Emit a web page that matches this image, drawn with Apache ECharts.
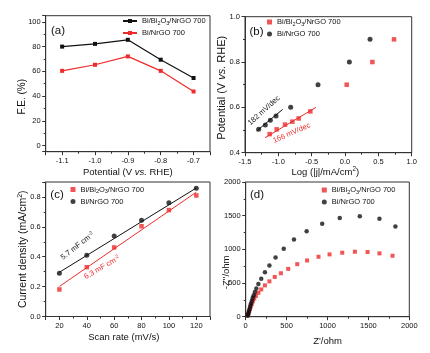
<!DOCTYPE html>
<html>
<head>
<meta charset="utf-8">
<script src="https://cdn.jsdelivr.net/npm/echarts@6/dist/echarts.min.js"></script>
<style>
html, body { margin: 0; padding: 0; background: #fff; }
#main { width: 430px; height: 353px; }
</style>
</head>
<body>
<div id="main"></div>
<script>
// (a) F.E. vs potential
var aPotential = [-1.1, -1.0, -0.9, -0.8, -0.7];
var aBi2O3 = [80, 82.2, 85.5, 69.4, 54.6];
var aBi = [60.4, 65.3, 72.1, 60.4, 43.7];

// (b) Tafel plot, [log|j|, potential]
var bBi2O3 = [[-1.13, 0.482], [-1.025, 0.503], [-0.90, 0.524], [-0.79, 0.537], [-0.695, 0.551],
              [-0.52, 0.582], [0.025, 0.70], [0.41, 0.80], [0.735, 0.90]];
var bBi = [[-1.295, 0.503], [-1.195, 0.522], [-1.12, 0.543], [-1.035, 0.562], [-0.815, 0.60],
           [-0.405, 0.70], [0.065, 0.80], [0.375, 0.90]];
var bFitBi2O3 = [[-1.2, 0.466], [-0.435, 0.60]];
var bFitBi = [[-1.325, 0.496], [-0.935, 0.591]];

// (c) current density vs scan rate
var cRate = [20, 40, 60, 80, 100, 120];
var cBi2O3 = [0.181, 0.33, 0.462, 0.604, 0.712, 0.81];
var cBi = [0.29, 0.41, 0.538, 0.644, 0.761, 0.858];
var cFitRate = [20, 120];
var cFitBi2O3 = [0.201, 0.832];
var cFitBi = [0.296, 0.86];

// (d) Nyquist, [Z', -Z'']
var dBi2O3 = [[1795, 905], [1635, 940], [1490, 960], [1335, 965], [1180, 950], [1025, 925], [890, 890],
              [750, 835], [630, 780], [520, 710], [430, 645], [355, 590], [290, 525], [235, 465],
              [190, 405], [155, 355], [125, 310], [105, 270], [88, 230], [74, 190], [62, 150],
              [52, 115], [42, 80], [34, 50], [26, 22]];
var dBi = [[1830, 1340], [1635, 1455], [1395, 1490], [1150, 1465], [935, 1380], [745, 1270], [590, 1145],
           [465, 1010], [365, 880], [290, 760], [235, 660], [190, 565], [155, 485], [130, 420],
           [112, 365], [98, 320], [86, 280], [76, 240], [66, 200], [58, 165], [50, 130], [43, 95],
           [36, 65], [30, 38], [24, 15]];

var FONT = 'Liberation Sans, Arial, sans-serif';
var TXT = '#111';
var AXIS = '#333';
var RED = '#ee2a2a';
var BLACK = '#111';

var LABELS = {
    a1: '{t|Bi/Bi}{sub|2}{t|O}{sub|3}{t|/NrGO 700}', a2: '{t|Bi/NrGO 700}',
    b1: '{t|Bi/Bi}{sub|2}{t|O}{sub|3}{t|/NrGO 700}', b2: '{t|Bi/NrGO 700}',
    c1: '{t|Bi/Bi}{sub|2}{t|O}{sub|3}{t|/NrGO 700}', c2: '{t|Bi/NrGO 700}',
    d1: '{t|Bi/Bi}{sub|2}{t|O}{sub|3}{t|/NrGO 700}', d2: '{t|Bi/NrGO 700}'
};

function nameRich(size) {
    return {
        t: { fontSize: size, fontFamily: FONT, color: TXT, lineHeight: size * 1.25 },
        i: { fontSize: size, fontFamily: FONT, color: TXT, fontStyle: 'italic', lineHeight: size * 1.25 },
        sup: { fontSize: size * 0.68, fontFamily: FONT, color: TXT, verticalAlign: 'top', lineHeight: size * 0.7 }
    };
}
var LEG_RICH = {
    t: { fontSize: 7.5, fontFamily: FONT, color: TXT, lineHeight: 10 },
    sub: { fontSize: 5.5, fontFamily: FONT, color: TXT, verticalAlign: 'bottom', lineHeight: 6 }
};

function fix1(v) { return v.toFixed(1); }
function plain(v) { return String(v); }

function makeAxis(grid, min, max, o) {
    var size = o.size || 9.5;
    return {
        type: 'value', gridIndex: grid, min: min, max: max,
        interval: o.interval, splitNumber: o.split,
        name: o.name, nameLocation: 'middle', nameGap: o.gap, nameMoveOverlap: false,
        nameTextStyle: { fontSize: size, color: TXT, fontFamily: FONT, padding: o.pad || 0, rich: nameRich(size) },
        axisLine: { show: true, onZero: false, lineStyle: { color: AXIS, width: 1 } },
        axisTick: { show: true, length: 3.5, lineStyle: { color: AXIS } },
        minorTick: { show: true, splitNumber: 2, length: 2, lineStyle: { color: AXIS } },
        splitLine: { show: false },
        axisLabel: {
            fontSize: 7.5, color: TXT, fontFamily: FONT, margin: o.margin,
            formatter: o.fmt || plain, showMinLabel: o.showMin, showMaxLabel: o.showMax
        }
    };
}

function makeLegend(names, left, top, w) {
    return {
        data: names, orient: 'vertical', left: left, top: top, padding: 0,
        itemWidth: w, itemHeight: 5, itemGap: 3,
        formatter: function (n) { return LABELS[n]; },
        textStyle: { fontSize: 7.5, fontFamily: FONT, color: TXT, rich: LEG_RICH }
    };
}

function zip(xs, ys) {
    return xs.map(function (x, i) { return [x, ys[i]]; });
}

function label(text, x, y, deg, color, size) {
    return {
        type: 'text', x: x, y: y, rotation: deg * Math.PI / 180, silent: true,
        style: {
            text: text, fontSize: size || 7.5, fontFamily: FONT, fill: color,
            align: 'center', verticalAlign: 'middle',
            rich: {
                t: { fontSize: size || 7.5, fontFamily: FONT, fill: color, lineHeight: 9 },
                sup: { fontSize: 5, fontFamily: FONT, fill: color, verticalAlign: 'top', lineHeight: 5 }
            }
        }
    };
}

var chart = echarts.init(document.getElementById('main'));

var option = {
    backgroundColor: '#fff',
    animation: false,
    grid: [
        { left: 45.7, top: 15.7, width: 164.3, height: 136, show: true, borderColor: AXIS, borderWidth: 1 },
        { left: 245, top: 16.7, width: 166.7, height: 136, show: true, borderColor: AXIS, borderWidth: 1 },
        { left: 45.7, top: 182, width: 164.3, height: 134.5, show: true, borderColor: AXIS, borderWidth: 1 },
        { left: 245.7, top: 182, width: 163.6, height: 134.7, show: true, borderColor: AXIS, borderWidth: 1 }
    ],
    xAxis: [
        makeAxis(0, -1.15, -0.65, { split: 5, name: '{t|Potential (V }{i|vs.}{t| RHE)}', gap: 15,
            margin: 5, fmt: fix1, showMin: false, showMax: false }),
        makeAxis(1, -1.5, 1.0, { interval: 0.5, name: '{t|Log (|j|/mA/cm}{sup|2}{t|)}', gap: 13.5,
            pad: [0, 6, 0, 0], margin: 5, fmt: fix1, showMin: true, showMax: true }),
        makeAxis(2, 10, 130, { split: 6, name: '{t|Scan rate (mV/s)}', gap: 14.5,
            pad: [0, 8, 0, 0], margin: 5, showMin: false, showMax: false }),
        makeAxis(3, 0, 2000, { interval: 500, name: "{t|Z'/ohm}", gap: 18.5,
            margin: 5, showMin: true, showMax: true })
    ],
    yAxis: [
        makeAxis(0, -5, 105, { split: 5, size: 10, name: '{t|F.E. (%)}', gap: 17, pad: [0, 26, 0, 0],
            margin: 5, showMin: false, showMax: false }),
        makeAxis(1, 0.4, 1.0, { interval: 0.2, size: 11, name: '{t|Potential (V }{i|vs.}{t| RHE)}', gap: 16,
            pad: [0, 6, 0, 0], margin: 5, fmt: fix1, showMin: true, showMax: true }),
        makeAxis(2, 0, 0.9, { interval: 0.2, size: 10.5, name: '{t|Current density (mA/cm}{sup|2}{t|)}', gap: 16.5,
            margin: 5, fmt: fix1, showMin: true, showMax: false }),
        makeAxis(3, 0, 2000, { interval: 500, name: "{t|-Z''/ohm}", gap: 13, pad: [0, 46, 0, 0],
            margin: 5, showMin: true, showMax: true })
    ],
    legend: [
        makeLegend(['a1', 'a2'], 122, 17, 14),
        makeLegend(['b1', 'b2'], 267, 18, 5),
        makeLegend(['c1', 'c2'], 70.5, 185.5, 5),
        makeLegend(['d1', 'd2'], 321.8, 186, 5)
    ],
    series: [
        { name: 'a1', type: 'line', xAxisIndex: 0, yAxisIndex: 0, data: zip(aPotential, aBi2O3),
          symbol: 'rect', symbolSize: 4, color: BLACK, lineStyle: { width: 1.2 } },
        { name: 'a2', type: 'line', xAxisIndex: 0, yAxisIndex: 0, data: zip(aPotential, aBi),
          symbol: 'rect', symbolSize: 4, color: RED, lineStyle: { width: 1.2 } },

        { name: 'bfit1', type: 'line', xAxisIndex: 1, yAxisIndex: 1, data: bFitBi2O3, showSymbol: false,
          silent: true, color: RED, lineStyle: { width: 1 } },
        { name: 'bfit2', type: 'line', xAxisIndex: 1, yAxisIndex: 1, data: bFitBi, showSymbol: false,
          silent: true, color: BLACK, lineStyle: { width: 1 } },
        { name: 'b1', type: 'scatter', xAxisIndex: 1, yAxisIndex: 1, data: bBi2O3,
          symbol: 'rect', symbolSize: 4.5, color: RED },
        { name: 'b2', type: 'scatter', xAxisIndex: 1, yAxisIndex: 1, data: bBi,
          symbol: 'circle', symbolSize: 5, color: BLACK },

        { name: 'cfit1', type: 'line', xAxisIndex: 2, yAxisIndex: 2, data: zip(cFitRate, cFitBi2O3),
          showSymbol: false, silent: true, color: RED, lineStyle: { width: 1 } },
        { name: 'cfit2', type: 'line', xAxisIndex: 2, yAxisIndex: 2, data: zip(cFitRate, cFitBi),
          showSymbol: false, silent: true, color: BLACK, lineStyle: { width: 1 } },
        { name: 'c1', type: 'scatter', xAxisIndex: 2, yAxisIndex: 2, data: zip(cRate, cBi2O3),
          symbol: 'rect', symbolSize: 4.5, color: RED },
        { name: 'c2', type: 'scatter', xAxisIndex: 2, yAxisIndex: 2, data: zip(cRate, cBi),
          symbol: 'circle', symbolSize: 5, color: BLACK },

        { name: 'd1', type: 'scatter', xAxisIndex: 3, yAxisIndex: 3, data: dBi2O3,
          symbol: 'rect', symbolSize: 4, color: RED },
        { name: 'd2', type: 'scatter', xAxisIndex: 3, yAxisIndex: 3, data: dBi,
          symbol: 'circle', symbolSize: 4.5, color: BLACK }
    ],
    graphic: [
        label('(a)', 58, 31, 0, TXT, 11.5),
        label('(b)', 256.5, 31.5, 0, TXT, 11.5),
        label('(c)', 57, 194.5, 0, TXT, 11.5),
        label('(d)', 257, 194.5, 0, TXT, 11.5),
        label('182 mV/dec', 264, 110.5, 42, BLACK),
        label('166 mV/dec', 291.7, 133, 24, RED),
        label('{t|5.7 mF cm}{sup|-2}', 77.5, 246, 38, BLACK),
        label('{t|6.3 mF cm}{sup|-2}', 102, 267.5, 30, RED)
    ]
};

chart.setOption(option);
</script>
</body>
</html>
